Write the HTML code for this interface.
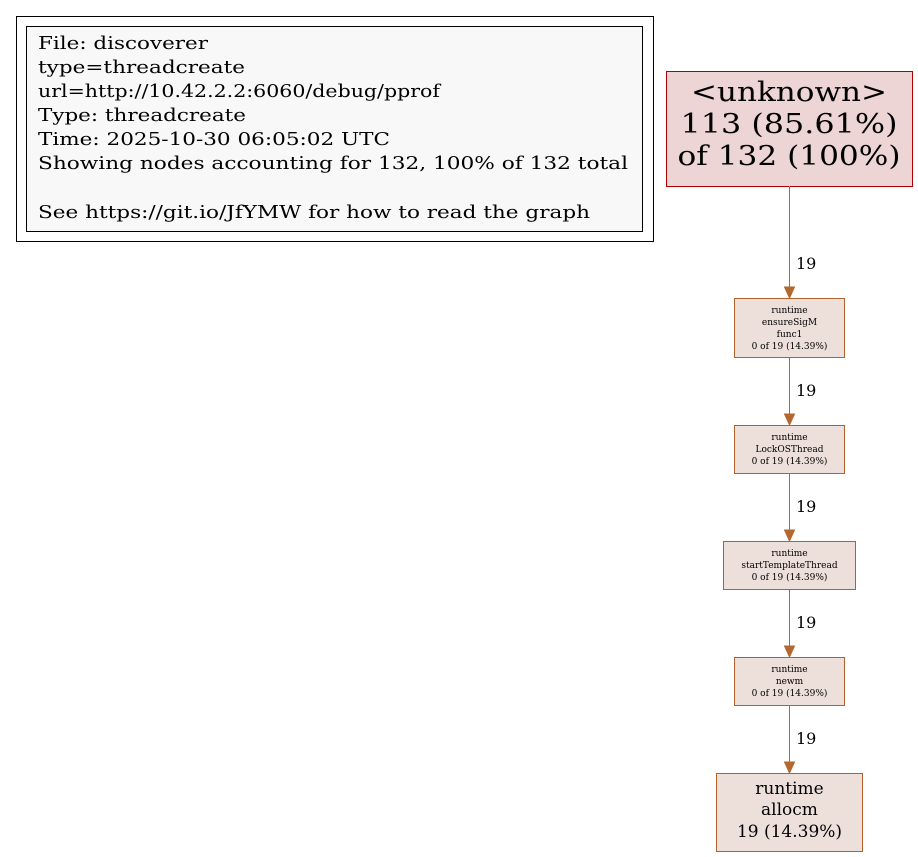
<!DOCTYPE html>
<html><head><meta charset="utf-8"><style>html,body{margin:0;padding:0;background:#fff}svg{display:block}</style></head>
<body>
<svg width="918" height="857" viewBox="0 0 918 857" xmlns="http://www.w3.org/2000/svg" font-family="'DejaVu Serif','Liberation Serif',serif">
<rect x="16.5" y="16.5" width="637" height="225" fill="#fff" stroke="#000"/>
<rect x="26.5" y="26.5" width="616" height="205" fill="#f8f8f8" stroke="#000"/>
<g font-size="18" fill="#000">
<text x="38" y="49" textLength="170" lengthAdjust="spacingAndGlyphs">File: discoverer</text>
<text x="38" y="73" textLength="207" lengthAdjust="spacingAndGlyphs">type=threadcreate</text>
<text x="38" y="97" textLength="402" lengthAdjust="spacingAndGlyphs">url=http://10.42.2.2:6060/debug/pprof</text>
<text x="38" y="121" textLength="208" lengthAdjust="spacingAndGlyphs">Type: threadcreate</text>
<text x="38" y="145" textLength="352" lengthAdjust="spacingAndGlyphs">Time: 2025-10-30 06:05:02 UTC</text>
<text x="38" y="169" textLength="590" lengthAdjust="spacingAndGlyphs">Showing nodes accounting for 132, 100% of 132 total</text>
<text x="38" y="218" textLength="552" lengthAdjust="spacingAndGlyphs">See https://git.io/JfYMW for how to read the graph</text>
</g>
<rect x="666.5" y="71.5" width="246" height="115" fill="#edd5d5" stroke="#b20000"/>
<g font-size="27" text-anchor="middle" fill="#000">
<text x="789" y="101" textLength="196" lengthAdjust="spacingAndGlyphs">&lt;unknown&gt;</text>
<text x="789" y="133" textLength="217" lengthAdjust="spacingAndGlyphs">113 (85.61%)</text>
<text x="789" y="165" textLength="223" lengthAdjust="spacingAndGlyphs">of 132 (100%)</text>
</g>
<g stroke="#b2682f" fill="#b2682f">
<line x1="789.5" y1="186" x2="789.5" y2="288"/><polygon points="784.5,287 794.5,287 789.5,298"/>
<line x1="789.5" y1="357" x2="789.5" y2="415"/><polygon points="784.5,414 794.5,414 789.5,425"/>
<line x1="789.5" y1="473" x2="789.5" y2="531"/><polygon points="784.5,530 794.5,530 789.5,541"/>
<line x1="789.5" y1="589" x2="789.5" y2="647"/><polygon points="784.5,646 794.5,646 789.5,657"/>
<line x1="789.5" y1="705" x2="789.5" y2="763"/><polygon points="784.5,762 794.5,762 789.5,773"/>
</g>
<g font-size="16" fill="#000">
<text x="796" y="269">19</text>
<text x="796" y="396">19</text>
<text x="796" y="512">19</text>
<text x="796" y="628">19</text>
<text x="796" y="744">19</text>
</g>
<g fill="#ede0da" stroke="#b2612a">
<rect x="734.5" y="298.5" width="110" height="59"/>
<rect x="734.5" y="425.5" width="110" height="48"/>
<rect x="723.5" y="541.5" width="132" height="48"/>
<rect x="734.5" y="657.5" width="110" height="48"/>
<rect x="716.5" y="773.5" width="146" height="78"/>
</g>
<g font-size="9" text-anchor="middle" fill="#000">
<text x="789.5" y="313">runtime</text>
<text x="789.5" y="325">ensureSigM</text>
<text x="789.5" y="337">func1</text>
<text x="789.5" y="349">0 of 19 (14.39%)</text>
<text x="789.5" y="440">runtime</text>
<text x="789.5" y="452">LockOSThread</text>
<text x="789.5" y="464">0 of 19 (14.39%)</text>
<text x="789.5" y="556">runtime</text>
<text x="789.5" y="568">startTemplateThread</text>
<text x="789.5" y="580">0 of 19 (14.39%)</text>
<text x="789.5" y="672">runtime</text>
<text x="789.5" y="684">newm</text>
<text x="789.5" y="696">0 of 19 (14.39%)</text>
</g>
<g font-size="17" text-anchor="middle" fill="#000">
<text x="789.5" y="794">runtime</text>
<text x="789.5" y="815">allocm</text>
<text x="789.5" y="837">19 (14.39%)</text>
</g>
</svg>
</body></html>
